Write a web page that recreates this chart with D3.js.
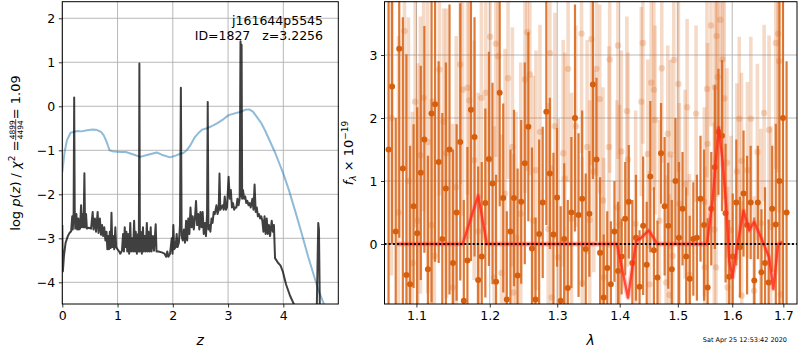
<!DOCTYPE html>
<html><head><meta charset="utf-8">
<script src="https://cdn.jsdelivr.net/npm/d3@7"></script>
<style>body{margin:0;background:#fff}svg{display:block}text{font-family:"DejaVu Sans",sans-serif}</style>
</head><body><svg id="c" width="800" height="350"></svg>
<script>
// ---------- DATA ----------
const zTicks=[0,1,2,3,4];
const pTicks=[-4,-3,-2,-1,0,1,2];
const lamTicks=[1.1,1.2,1.3,1.4,1.5,1.6,1.7];
const fTicks=[0,1,2,3];

// log p(z) curve
const pzZ=[0.000,0.010,0.030,0.060,0.100,0.130,0.160,0.180,0.190,0.205,0.215,0.225,0.235,0.255,0.270,0.290,0.300,0.320,0.340,0.355,0.370,0.385,0.400,0.412,0.430,0.445,0.480,0.520,0.550,0.565,0.590,0.610,0.640,0.655,0.680,0.700,0.720,0.740,0.760,0.780,0.800,0.815,0.830,0.845,0.860,0.875,0.890,0.905,0.920,0.940,0.960,0.975,1.000,1.030,1.050,1.080,1.100,1.115,1.130,1.145,1.160,1.175,1.190,1.210,1.230,1.245,1.260,1.280,1.300,1.315,1.330,1.350,1.370,1.385,1.395,1.405,1.420,1.440,1.460,1.475,1.490,1.510,1.530,1.545,1.560,1.580,1.600,1.615,1.640,1.660,1.690,1.705,1.740,1.800,1.850,1.880,1.900,1.920,1.950,1.980,1.995,2.010,2.025,2.050,2.070,2.085,2.110,2.130,2.146,2.160,2.180,2.200,2.220,2.240,2.260,2.280,2.300,2.320,2.340,2.360,2.380,2.400,2.420,2.440,2.460,2.480,2.500,2.520,2.540,2.560,2.580,2.600,2.620,2.632,2.645,2.660,2.680,2.700,2.720,2.740,2.760,2.790,2.810,2.830,2.845,2.860,2.880,2.900,2.920,2.940,2.960,2.980,3.010,3.030,3.050,3.070,3.090,3.110,3.130,3.150,3.170,3.190,3.210,3.225,3.235,3.245,3.255,3.270,3.290,3.310,3.330,3.350,3.370,3.390,3.410,3.440,3.460,3.480,3.500,3.520,3.540,3.560,3.580,3.600,3.620,3.640,3.660,3.680,3.700,3.720,3.740,3.760,3.790,3.810,3.830,3.850,3.900,3.950,3.990,4.050,4.120,4.210,4.300,4.400,4.500,4.600,4.632,4.645,4.665,4.700,4.800];
const pzLog=[-2.70,-3.75,-3.40,-3.10,-2.95,-2.88,-2.84,-2.50,-2.80,-2.42,0.20,-2.40,-2.78,-2.45,-2.80,-2.55,-2.80,-2.78,-2.25,-2.75,-2.45,-2.75,-1.52,-2.75,-2.45,-2.78,-2.76,-2.78,-2.40,-2.80,-2.55,-2.85,-2.40,-2.88,-2.55,-2.92,-2.70,-2.95,-2.75,-3.05,-2.85,-3.25,-2.95,-3.25,-2.85,-3.22,-2.42,-3.20,-2.95,-3.25,-2.75,-3.20,-3.25,-3.30,-3.35,-3.28,-2.90,-3.30,-2.75,-3.20,-2.85,-3.30,-2.90,-3.35,-2.65,-3.30,-3.00,-3.30,-2.60,-3.30,-2.85,-3.35,-2.90,-3.30,0.97,-3.30,-2.85,-3.35,-2.75,-3.30,-2.95,-3.30,-2.65,-3.30,-2.85,-3.30,-2.75,-3.30,-2.95,-3.28,-2.68,-3.30,-3.30,-3.32,-3.35,-3.42,-3.30,-3.42,-3.35,-3.00,-3.35,-2.70,-3.25,-3.20,-2.90,-3.20,-3.10,-2.70,0.42,-2.95,-3.05,-2.80,-3.10,-2.60,-3.05,-2.55,-2.90,-2.30,-2.75,-2.50,-2.80,-2.55,-2.15,-2.70,-2.45,-2.80,-2.40,-2.75,-2.40,-2.90,-2.65,-2.95,-2.45,0.10,-2.80,-2.70,-2.85,-2.55,-2.65,-2.40,-2.45,-2.25,-2.45,-2.35,-1.53,-2.35,-2.30,-2.25,-2.35,-2.05,-2.35,-2.30,-1.60,-2.10,-1.90,-2.30,-2.20,-2.35,-2.30,-2.30,-2.10,-2.25,-2.10,1.48,-2.05,1.40,-2.10,-1.90,-2.10,-2.05,-2.20,-2.15,-2.25,-2.20,-2.30,-2.10,-2.35,-1.78,-2.40,-2.30,-2.50,-2.45,-2.55,-2.50,-2.60,-2.85,-2.50,-2.90,-2.55,-2.90,-2.70,-2.95,-2.60,-2.85,-2.70,-3.45,-3.55,-3.62,-3.75,-4.05,-4.30,-4.55,-4.90,-5.20,-5.40,-5.00,-2.65,-2.80,-5.00,-5.50,-5.80];

// prior curve
const priorZ=[0.00,0.04,0.085,0.15,0.27,0.35,0.45,0.55,0.63,0.70,0.75,0.80,0.855,0.90,1.05,1.15,1.30,1.41,1.55,1.71,1.80,1.95,2.05,2.13,2.19,2.25,2.31,2.40,2.47,2.53,2.62,2.74,2.80,2.92,3.01,3.15,3.22,3.31,3.38,3.45,3.52,3.60,3.67,3.85,4.00,4.10,4.21,4.33,4.45,4.635,4.73,4.80];
const priorLog=[-1.50,-1.05,-0.77,-0.60,-0.56,-0.57,-0.545,-0.53,-0.54,-0.58,-0.66,-0.80,-1.00,-1.02,-1.04,-1.04,-1.10,-1.15,-1.10,-1.05,-1.10,-1.16,-1.12,-1.08,-1.06,-1.00,-0.90,-0.70,-0.60,-0.53,-0.50,-0.43,-0.39,-0.29,-0.20,-0.15,-0.13,-0.08,-0.07,-0.12,-0.24,-0.38,-0.55,-1.05,-1.53,-1.90,-2.36,-2.88,-3.42,-4.18,-4.48,-4.70];

// spectrum: darker points
const darkLam=[1.0642,1.0687,1.0733,1.0778,1.0824,1.0870,1.0917,1.0963,1.1010,1.1057,
1.1104,1.1151,1.1199,1.1246,1.1294,1.1343,1.1391,1.1440,1.1488,1.1537,
1.1587,1.1636,1.1686,1.1735,1.1785,1.1836,1.1886,1.1937,1.1988,1.2039,
1.2090,1.2142,1.2193,1.2245,1.2298,1.2350,1.2403,1.2456,1.2509,1.2562,
1.2616,1.2670,1.2724,1.2778,1.2833,1.2887,1.2942,1.2997,1.3053,1.3108,
1.3164,1.3220,1.3277,1.3333,1.3390,1.3447,1.3505,1.3562,1.3620,1.3678,
1.3737,1.3795,1.3854,1.3913,1.3973,1.4032,1.4092,1.4152,1.4212,1.4273,
1.4334,1.4395,1.4456,1.4518,1.4580,1.4642,1.4704,1.4767,1.4830,1.4893,
1.4957,1.5020,1.5084,1.5149,1.5213,1.5278,1.5343,1.5409,1.5474,1.5540,
1.5607,1.5673,1.5740,1.5807,1.5874,1.5942,1.6010,1.6078,1.6147,1.6216,
1.6285,1.6354,1.6424,1.6494,1.6564,1.6635,1.6706,1.6777,1.6849,1.6921,
1.6993,1.7066];
const darkFlux=[1.5,2.5,0.2,3.1,1.2,-0.49,-0.64,0.6,0.17,1.13,
1.66,-0.4,2.07,2.22,1.3,0.08,0.88,1.5,-0.3,0.5,
1.62,-0.9,-0.26,2.13,1.7,-0.57,-0.2,0.65,1.35,0.96,
-0.6,2.4,0.73,-0.88,0.2,0.73,-0.5,0.67,1.28,1.86,
-0.07,-0.88,0.16,0.66,2.1,1.12,0.15,0.74,-0.9,0.08,
-0.7,0.5,2.0,0.46,0.72,-0.08,0.48,2.53,1.34,-0.14,
-0.85,-0.38,-0.64,0.2,-0.43,-0.2,0.4,0.67,-0.3,0.1,
-0.68,0.29,-0.33,1.07,-0.1,-0.53,1.44,0.6,0.29,-0.4,
1.0,0.1,0.56,-0.2,-0.55,0.08,0.1,0.72,0.3,-0.69,
0.56,1.22,1.78,1.72,0.49,-0.52,-0.2,0.66,-0.05,0.8,
0.3,0.66,-0.58,0.66,-0.45,-0.3,-0.61,0.56,0.31,1.0,
2.0,0.5];
const darkErr=[3.0,2.5,1.8,3.0,2.4,3.5,2.2,1.3,2.0,1.7,
1.8,1.8,3.0,2.5,1.6,2.0,2.0,2.3,1.8,1.4,
2.2,1.6,1.8,2.4,1.9,1.8,1.5,1.5,1.7,1.6,
1.7,1.8,1.5,1.4,1.3,1.4,1.7,1.3,1.6,1.5,
1.6,1.3,1.5,1.2,1.8,1.2,1.3,1.1,1.5,1.2,
1.4,1.2,1.8,1.3,1.4,1.2,1.0,1.5,1.3,1.2,
1.0,0.9,1.0,0.8,1.1,0.6,0.9,0.9,1.0,1.0,
0.9,1.1,1.0,1.2,1.0,0.9,0.8,1.1,1.0,1.1,
1.0,1.2,0.9,1.1,1.0,0.9,1.0,1.0,1.2,1.1,
0.9,1.3,1.0,1.2,1.1,0.9,1.0,1.0,0.8,1.0,
1.1,0.9,1.0,0.9,1.0,1.2,1.0,1.0,1.6,3.5,
3.0,2.4];

// spectrum: lighter points
const lightLam=[1.0679,1.0768,1.0845,1.0896,1.0948,1.0983,1.1017,1.1052,1.1095,1.1148,
1.1196,1.1236,1.1303,1.1361,1.1397,1.1482,1.1532,1.1587,1.1619,1.1687,
1.1711,1.1780,1.1836,1.1882,1.1944,1.2005,1.2062,1.2086,1.2119,1.2167,
1.2220,1.2263,1.2326,1.2343,1.2380,1.2449,1.2512,1.2546,1.2586,1.2636,
1.2676,1.2736,1.2862,1.2887,1.2914,1.2964,1.3015,1.3092,1.3118,1.3169,
1.3222,1.3290,1.3380,1.3392,1.3469,1.3511,1.3539,1.3576,1.3619,1.3672,
1.3726,1.3737,1.3823,1.3835,1.3955,1.3971,1.3999,1.4027,1.4121,1.4138,
1.4267,1.4363,1.4390,1.4475,1.4504,1.4534,1.4579,1.4599,1.4677,1.4717,
1.4794,1.4822,1.4851,1.4869,1.4910,1.4927,1.5010,1.5028,1.5130,1.5166,
1.5207,1.5328,1.5479,1.5488,1.5528,1.5539,1.5602,1.5663,1.5676,1.5695,
1.5706,1.5725,1.5774,1.5818,1.5849,1.5900,1.5911,1.5975,1.6089,1.6133,
1.6177,1.6180,1.6292,1.6357,1.6421,1.6485,1.6552,1.6617,1.6715,1.6749,
1.6848,1.6894,1.6914,1.6948];
const lightFlux=[2.0,0.5,3.38,1.0,-0.3,2.26,0.37,1.41,2.32,1.62,
0.3,-0.19,2.77,1.94,1.44,-0.69,0.9,2.85,2.45,2.48,
2.28,1.33,0.2,2.32,2.4,3.29,-0.53,3.18,2.98,-0.46,
0.8,2.63,1.54,-0.77,0.1,0.48,2.61,3.36,2.69,0.37,
1.17,1.78,0.24,3.03,-0.85,1.87,-0.21,1.44,1.04,2.78,
0.4,1.87,3.34,-0.62,1.54,0.38,3.25,1.15,2.78,2.3,
0.69,-0.53,1.54,2.93,0.58,3.15,0.31,1.47,2.11,1.34,
0.32,2.26,3.19,1.43,-0.64,2.56,2.45,1.97,0.37,2.79,
-0.61,1.75,-0.81,1.42,-0.19,2.92,2.54,0.64,0.95,2.17,
-0.49,2.07,0.67,-0.37,2.46,1.59,3.47,0.23,2.49,-0.37,
3.3,2.65,3.56,2.93,2.31,1.29,-0.69,0.22,1.15,1.99,
1.32,-0.82,1.17,1.99,-0.74,1.46,0.33,2.08,1.81,0.27,
3.19,3.34,2.9,-0.8];
const lightErr=[2.5,2.8,2.2,2.6,2.4,2.0,2.5,2.2,1.8,2.4,
2.0,2.5,2.0,1.8,2.3,2.6,2.4,1.9,2.0,1.7,
2.2,1.9,2.2,1.6,2.1,2.0,2.4,1.8,2.0,2.2,
2.3,1.6,1.9,2.2,2.0,2.4,1.8,2.2,1.6,2.3,
1.9,1.7,2.0,1.9,2.1,1.8,2.2,1.8,2.0,1.8,
2.0,1.6,1.9,2.0,1.7,1.9,2.0,1.6,1.7,1.5,
1.8,1.9,1.6,1.8,1.7,1.8,1.9,1.6,1.5,1.7,
1.8,1.5,1.6,1.5,1.8,1.4,1.6,1.5,1.6,1.5,
1.7,1.4,1.6,1.5,1.6,1.5,1.4,1.6,1.5,1.4,
1.6,1.4,1.5,1.6,1.4,1.6,1.6,1.7,1.8,1.8,
1.7,1.9,1.8,1.7,1.6,1.5,1.6,1.5,1.4,1.3,
1.4,1.5,1.4,1.3,1.5,1.4,1.5,1.4,1.5,1.6,
2.0,2.2,2.4,1.8];

// best-fit model
const modelLam=[1.0750,1.1619,1.1836,1.1958,1.3955,1.4138,1.4278,1.4363,1.4492,1.4593,1.4630,1.5528,1.5632,1.5743,1.5820,1.5886,1.5943,1.6006,1.6089,1.6216,1.6324,1.6421,1.6552,1.6715,1.6800,1.6894,1.6980];
const modelFlux=[0,0,0.77,0,0,-0.85,0.05,0.10,0.215,0.07,0,0,0.70,1.85,1.30,0.59,-0.26,-0.53,-0.05,0.53,0.215,0.35,0.11,-0.21,-0.71,0,0.03];

const title1="j161644p5545", title2="ID=1827   z=3.2256", stamp="Sat Apr 25 12:53:42 2020";

// ---------- DRAW ----------
const svg=d3.select("#c");
const L={x0:62.3,x1:338.3,y0:1.7,y1:304};
const R={x0:384.5,x1:797,y0:1.7,y1:304};
const xz=d3.scaleLinear().domain([0,4.995]).range([L.x0,L.x1]);
const yp=d3.scaleLinear().domain([-4.493,2.377]).range([L.y1,L.y0]);
const xl=d3.scaleLog().domain([1.0591,1.7278]).range([R.x0,R.x1]);
const yf=d3.scaleLinear().domain([-0.952,3.846]).range([R.y1,R.y0]);
const gridC="#b0b0b0";
const defs=svg.append("defs");
defs.append("clipPath").attr("id","cl").append("rect").attr("x",L.x0).attr("y",L.y0).attr("width",L.x1-L.x0).attr("height",L.y1-L.y0);
defs.append("clipPath").attr("id","cr").append("rect").attr("x",R.x0).attr("y",R.y0).attr("width",R.x1-R.x0).attr("height",R.y1-R.y0);

// left grid
const gL=svg.append("g");
gL.selectAll(".gx").data(zTicks).join("line").attr("x1",d=>xz(d)).attr("x2",d=>xz(d)).attr("y1",L.y0).attr("y2",L.y1).attr("stroke",gridC).attr("stroke-width",0.9);
gL.selectAll(".gy").data(pTicks).join("line").attr("y1",d=>yp(d)).attr("y2",d=>yp(d)).attr("x1",L.x0).attr("x2",L.x1).attr("stroke",gridC).attr("stroke-width",0.9);
const cL=svg.append("g").attr("clip-path","url(#cl)");
const lineL=d3.line().x(d=>xz(d[0])).y(d=>yp(d[1]));
cL.append("path").attr("d",lineL(priorZ.map((z,i)=>[z,priorLog[i]]))).attr("fill","none").attr("stroke","#1f77b4").attr("stroke-opacity",0.5).attr("stroke-width",2).attr("stroke-linejoin","round");
cL.append("path").attr("d",lineL(pzZ.map((z,i)=>[z,pzLog[i]]))).attr("fill","none").attr("stroke","#000").attr("stroke-opacity",0.75).attr("stroke-width",2).attr("stroke-linejoin","round");
svg.append("text").attr("x",323).attr("y",25).attr("text-anchor","end").attr("font-size",12.5).text(title1);
svg.append("text").attr("x",323).attr("y",39.5).attr("text-anchor","end").attr("font-size",12.5).style("white-space","pre").text(title2);

// right grid
const gR=svg.append("g");
gR.selectAll("line.gx").data(lamTicks).join("line").attr("x1",d=>xl(d)).attr("x2",d=>xl(d)).attr("y1",R.y0).attr("y2",R.y1).attr("stroke",gridC).attr("stroke-width",0.9);
gR.selectAll("line.gy").data(fTicks).join("line").attr("class","gy").attr("y1",d=>yf(d)).attr("y2",d=>yf(d)).attr("x1",R.x0).attr("x2",R.x1).attr("stroke",gridC).attr("stroke-width",0.9);

const cR=svg.append("g").attr("clip-path","url(#cr)");
const oc="#d9661a";
const light=lightLam.map((l,i)=>({l,f:lightFlux[i],e:lightErr[i]}));
const dark=darkLam.map((l,i)=>({l,f:darkFlux[i],e:darkErr[i]}));
cR.append("g").selectAll("line").data(light).join("line").attr("x1",d=>xl(d.l)).attr("x2",d=>xl(d.l)).attr("y1",d=>yf(d.f-d.e)).attr("y2",d=>yf(d.f+d.e)).attr("stroke",oc).attr("stroke-opacity",0.24).attr("stroke-width",3.6);
cR.append("g").selectAll("circle").data(light).join("circle").attr("cx",d=>xl(d.l)).attr("cy",d=>yf(d.f)).attr("r",3.2).attr("fill",oc).attr("fill-opacity",0.25);
cR.append("g").selectAll("line").data(dark).join("line").attr("x1",d=>xl(d.l)).attr("x2",d=>xl(d.l)).attr("y1",d=>yf(d.f-d.e)).attr("y2",d=>yf(d.f+d.e)).attr("stroke",oc).attr("stroke-opacity",0.88).attr("stroke-width",2.2);
cR.append("g").selectAll("circle").data(dark).join("circle").attr("cx",d=>xl(d.l)).attr("cy",d=>yf(d.f)).attr("r",3.0).attr("fill","#d65f0e");
const mline=d3.line().x(d=>xl(d[0])).y(d=>yf(d[1]));
const md=mline(modelLam.map((l,i)=>[l,modelFlux[i]]));
cR.append("path").attr("d",md).attr("fill","none").attr("stroke","#ff5a4a").attr("stroke-opacity",0.35).attr("stroke-width",5).attr("stroke-linejoin","round");
cR.append("path").attr("d",md).attr("fill","none").attr("stroke","#ff2a14").attr("stroke-opacity",0.8).attr("stroke-width",2.4).attr("stroke-linejoin","round");
cR.append("line").attr("x1",R.x0).attr("x2",R.x1).attr("y1",yf(0)).attr("y2",yf(0)).attr("stroke","#000").attr("stroke-width",1.8).attr("stroke-dasharray","2,2.2");

// frames
[L,R].forEach(P=>svg.append("rect").attr("x",P.x0).attr("y",P.y0).attr("width",P.x1-P.x0).attr("height",P.y1-P.y0).attr("fill","none").attr("stroke","#000").attr("stroke-width",1));

function styleAxis(g){g.select(".domain").remove();g.attr("font-size",12.5).attr("font-family","DejaVu Sans");g.selectAll(".tick line").attr("stroke","#000").attr("stroke-width",0.8);g.selectAll(".tick text").attr("fill","#000");}
svg.append("g").attr("transform",`translate(0,${L.y1})`).call(d3.axisBottom(xz).tickValues(zTicks).tickFormat(d3.format("d")).tickSize(3.5).tickPadding(3.5)).call(styleAxis);
svg.append("g").attr("transform",`translate(${L.x0},0)`).call(d3.axisLeft(yp).tickValues(pTicks).tickFormat(d3.format("d")).tickSize(3.5).tickPadding(3.5)).call(styleAxis);
svg.append("g").attr("transform",`translate(0,${R.y1})`).call(d3.axisBottom(xl).tickValues(lamTicks).tickFormat(d3.format(".1f")).tickSize(3.5).tickPadding(3.5)).call(styleAxis);
svg.append("g").attr("transform",`translate(${R.x0},0)`).call(d3.axisLeft(yf).tickValues(fTicks).tickFormat(d3.format("d")).tickSize(3.5).tickPadding(3.5)).call(styleAxis);

// axis labels
svg.append("text").attr("x",(L.x0+L.x1)/2).attr("y",345).attr("text-anchor","middle").attr("font-size",14).attr("font-style","italic").text("z");
svg.append("text").attr("x",(R.x0+R.x1)/2).attr("y",345).attr("text-anchor","middle").attr("font-size",14).attr("font-style","italic").text("λ");
svg.append("text").attr("x",787).attr("y",341.5).attr("text-anchor","end").attr("font-size",6.5).text(stamp);

// left y label with fraction
(function(){
  const g=svg.append("g").attr("transform","translate(19.5,153) rotate(-90)");
  const fs=13;
  const t1=g.append("text").attr("font-size",fs);
  t1.append("tspan").text("log ");
  t1.append("tspan").attr("font-style","italic").text("p");
  t1.append("tspan").text("(");
  t1.append("tspan").attr("font-style","italic").text("z");
  t1.append("tspan").text(") / ");
  t1.append("tspan").attr("font-style","italic").text("χ");
  t1.append("tspan").attr("font-size",fs*0.7).attr("dy",-5).text("2");
  t1.append("tspan").attr("dy",5).text(" = ");
  const num=g.append("text").attr("font-size",7.5).attr("text-anchor","middle").text("4899");
  const den=g.append("text").attr("font-size",7.5).attr("text-anchor","middle").text("4494");
  const t3=g.append("text").attr("font-size",fs).text(" = 1.09");
  const w1=t1.node().getComputedTextLength();
  const wf=Math.max(num.node().getComputedTextLength(),den.node().getComputedTextLength())+2;
  const w3=t3.node().getComputedTextLength();
  const x0=-(w1+wf+w3)/2;
  t1.attr("x",x0);
  num.attr("x",x0+w1+wf/2).attr("y",-5);
  den.attr("x",x0+w1+wf/2).attr("y",3);
  g.append("line").attr("x1",x0+w1).attr("x2",x0+w1+wf).attr("y1",-3.8).attr("y2",-3.8).attr("stroke","#000").attr("stroke-width",0.7);
  t3.attr("x",x0+w1+wf);
})();
// right y label
(function(){
  const g=svg.append("g").attr("transform","translate(353,153) rotate(-90)");
  const t=g.append("text").attr("font-size",13).attr("text-anchor","middle");
  t.append("tspan").attr("font-style","italic").text("f");
  t.append("tspan").attr("font-style","italic").attr("font-size",9).attr("dy",3).text("λ");
  t.append("tspan").attr("dy",-3).text(" × 10");
  t.append("tspan").attr("font-size",9).attr("dy",-5.5).text("−19");
})();
</script></body></html>
